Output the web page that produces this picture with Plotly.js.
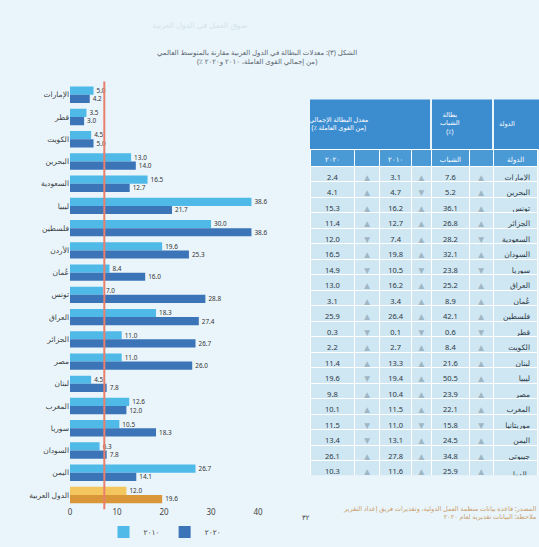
<!DOCTYPE html>
<html>
<head>
<meta charset="utf-8">
<script src="https://cdn.plot.ly/plotly-3.0.1.min.js"></script>
<style>
  html, body { margin: 0; padding: 0; background: #eaf5fb; }
  #chart { width: 539px; height: 547px; }
</style>
</head>
<body>
<div id="chart"></div>
<script>
// Countries shown in the bar chart (top to bottom); the last row is the regional aggregate
const countries = [
  "الإمارات", "قطر", "الكويت", "البحرين", "السعودية", "ليبيا", "فلسطين",
  "الأردن", "عُمان", "تونس", "العراق", "الجزائر", "مصر", "لبنان",
  "المغرب", "سوريا", "السودان", "اليمن", "الدول العربية"
];
// Unemployment rate (%) for the two years compared
const rate2010 = [5.0, 3.5, 4.5, 13.0, 16.5, 38.6, 30.0, 19.6, 8.4, 7.0, 18.3, 11.0, 11.0, 4.5, 12.6, 10.5, 6.3, 26.7, 12.0];
const rate2020 = [4.2, 3.0, 5.0, 14.0, 12.7, 21.7, 38.6, 25.3, 16.0, 28.8, 27.4, 26.7, 26.0, 7.8, 12.0, 18.3, 7.8, 14.1, 19.6];
const seriesNames = ["٢٠١٠", "٢٠٢٠"];
// World average reference line
const worldAvg = 7.3;
const xTicks = [0, 10, 20, 30, 40];

// Table: country, three indicators, direction of change
const tblCountries = [
  "الإمارات", "البحرين", "تونس", "الجزائر", "السعودية", "السودان", "سوريا",
  "العراق", "عُمان", "فلسطين", "قطر", "الكويت", "لبنان", "ليبيا",
  "مصر", "المغرب", "موريتانيا", "اليمن", "جيبوتي", "الدول العربية"
];
const tblCol1 = ["2.4", "4.1", "15.3", "11.4", "12.0", "16.5", "14.9", "13.0", "3.1", "25.9", "0.3", "2.2", "11.4", "19.6", "9.8", "10.1", "11.5", "13.4", "26.1", "10.3"];
const tblCol2 = ["3.1", "4.7", "16.2", "12.7", "7.4", "19.8", "10.5", "16.2", "3.4", "26.4", "0.1", "2.7", "13.3", "19.4", "10.4", "11.5", "11.0", "13.1", "27.8", "11.6"];
const tblCol3 = ["7.6", "5.2", "36.1", "26.8", "28.2", "32.1", "23.8", "25.2", "8.9", "42.1", "0.6", "8.4", "21.6", "50.5", "23.9", "22.1", "15.8", "24.5", "34.8", "25.9"];
const tblDir1 = ["▲", "▲", "▲", "▲", "▼", "▲", "▼", "▲", "▲", "▲", "▼", "▲", "▲", "▼", "▲", "▲", "▼", "▼", "▲", "▲"];
const tblDir2 = ["▲", "▼", "▲", "▲", "▲", "▲", "▼", "▲", "▲", "▲", "▼", "▲", "▲", "▲", "▲", "▲", "▼", "▲", "▲", "▲"];
const tblDir3 = ["▲", "▲", "▲", "▲", "▼", "▲", "▼", "▲", "▲", "▲", "▼", "▲", "▲", "▲", "▲", "▲", "▼", "▲", "▲", "▲"];
const tblSubHeads = ["٢٠٢٠", "", "٢٠١٠", "", "الشباب", "", "الدولة"];
const tblGroupHeads = [
  "معدل البطالة الإجمالي<br>(٪ من القوى العاملة)",
  "بطالة<br>الشباب<br>(٪)",
  "الدولة"
];

const W = 539, H = 547;
const px = v => v / W;
const py = v => 1 - v / H;

const last = countries.length - 1;
const lightColors = countries.map((c, i) => i === last ? "#f3c75e" : "#4fb9e8");
const darkColors = countries.map((c, i) => i === last ? "#d9973a" : "#3b74b7");
const fmt = v => v.toFixed(1);

const traces = [
  {
    type: "bar", orientation: "h", name: seriesNames[0],
    y: countries, x: rate2010,
    marker: { color: lightColors },
    text: rate2010.map(fmt), textposition: "outside", cliponaxis: false,
    textfont: { size: 7, color: "#333" },
    hoverinfo: "x+y"
  },
  {
    type: "bar", orientation: "h", name: seriesNames[1],
    y: countries, x: rate2020,
    marker: { color: darkColors },
    text: rate2020.map(fmt), textposition: "outside", cliponaxis: false,
    textfont: { size: 7, color: "#333" },
    hoverinfo: "x+y"
  },
  {
    type: "table",
    domain: { x: [px(310), 1], y: [py(478), py(150)] },
    columnwidth: [45, 25, 32, 20, 38, 24, 45],
    header: {
      values: tblSubHeads,
      fill: { color: "#4a9ad6" },
      line: { color: "#ffffff", width: 1 },
      font: { size: 7, color: "#ffffff", family: "Noto Sans, DejaVu Sans, sans-serif" },
      align: "center", height: 17
    },
    cells: {
      values: [tblCol1, tblDir1, tblCol2, tblDir2, tblCol3, tblDir3, tblCountries],
      fill: { color: "#cfe6f3" },
      line: { color: "#ffffff", width: 1 },
      font: {
        size: 7.5,
        color: ["#2e3a44", "#9fb6c4", "#2e3a44", "#9fb6c4", "#2e3a44", "#9fb6c4", "#2e3a44"],
        family: "Noto Sans, DejaVu Sans, sans-serif"
      },
      align: ["center", "center", "center", "center", "center", "center", "right"],
      height: 15.5
    }
  }
];

// Blue group header boxes above the table
const headBoxes = [[310, 430], [432, 492], [494, 539]];
const shapes = headBoxes.map(b => ({
  type: "rect", xref: "paper", yref: "paper",
  x0: px(b[0]), x1: px(b[1]), y0: py(150), y1: py(100),
  fillcolor: "#3c8dd0", line: { width: 0 }, layer: "below"
}));
shapes.push({
  type: "line", xref: "x", yref: "paper",
  x0: worldAvg, x1: worldAvg, y0: py(512), y1: py(82),
  line: { color: "#ea7f6c", width: 2 }
});

const annotations = [
  {
    xref: "paper", yref: "paper", x: px(155), y: py(57), yanchor: "middle",
    text: "الشكل (٣): معدلات البطالة في الدول العربية مقارنة بالمتوسط العالمي<br>(٪ من إجمالي القوى العاملة، ٢٠١٠ و٢٠٢٠)",
    showarrow: false, font: { size: 7, color: "#5a6670" }, align: "center"
  },
  {
    xref: "paper", yref: "paper", x: px(150), y: py(25), yanchor: "middle",
    text: "سوق العمل في الدول العربية",
    showarrow: false, font: { size: 8, color: "#d3e3ec" }
  },
  {
    xref: "paper", yref: "paper", x: 1, xanchor: "right", y: py(515), yanchor: "middle",
    text: "المصدر: قاعدة بيانات منظمة العمل الدولية، وتقديرات فريق إعداد التقرير<br>ملاحظة: البيانات تقديرية لعام ٢٠٢٠",
    showarrow: false, font: { size: 6.5, color: "#c99d6c" }, align: "right"
  },
  {
    xref: "paper", yref: "paper", x: px(306), y: py(520), yanchor: "middle",
    text: "٣٢", showarrow: false, font: { size: 7, color: "#444" }
  }
];
headBoxes.forEach((b, i) => annotations.push({
  xref: "paper", yref: "paper", x: px((b[0] + b[1]) / 2), y: py(124), yanchor: "middle",
  text: tblGroupHeads[i], showarrow: false,
  font: { size: 6.5, color: "#ffffff" }, align: "center"
}));

const layout = {
  width: W, height: H,
  margin: { l: 0, r: 0, t: 0, b: 0 },
  paper_bgcolor: "#eaf5fb",
  plot_bgcolor: "rgba(0,0,0,0)",
  font: { family: "Noto Sans, DejaVu Sans, sans-serif", color: "#444" },
  barmode: "group", bargap: 0.26, bargroupgap: 0,
  showlegend: true,
  legend: {
    orientation: "h", x: px(165), xanchor: "center", y: py(535), yanchor: "middle",
    font: { size: 7.5, color: "#444" }, bgcolor: "rgba(0,0,0,0)"
  },
  xaxis: {
    domain: [px(70), px(290)], range: [0, 46.8],
    tickvals: xTicks, ticktext: xTicks.map(String),
    showgrid: false, zeroline: false, showline: false, ticks: "",
    tickfont: { size: 8, color: "#444" }
  },
  yaxis: {
    domain: [py(509), py(84)],
    autorange: "reversed",
    showgrid: false, zeroline: false, showline: false, ticks: "",
    tickfont: { size: 7.5, color: "#3a3f44" }
  },
  shapes: shapes,
  annotations: annotations
};

Plotly.newPlot("chart", traces, layout, { displayModeBar: false, staticPlot: true });
</script>
</body>
</html>
